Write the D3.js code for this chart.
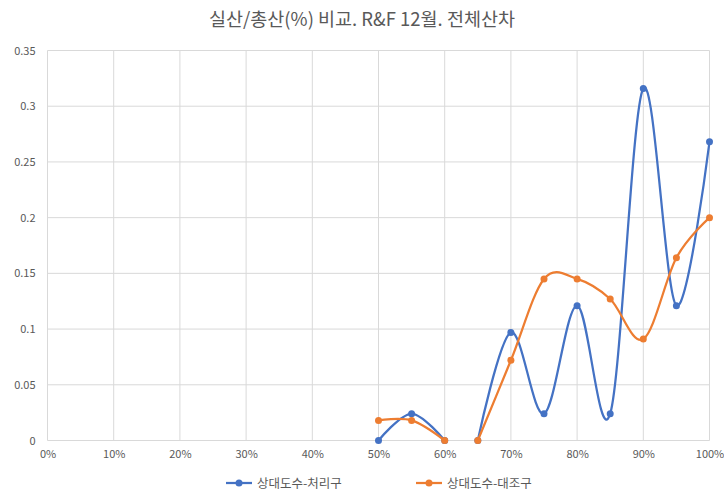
<!DOCTYPE html>
<html><head><meta charset="utf-8">
<script src="https://cdn.jsdelivr.net/npm/d3@7"></script>
<style>body{margin:0;background:#fff}svg{display:block}</style>
</head><body>
<svg id="c" width="724" height="493"></svg>
<script>
const title = "실산/총산(%) 비교. R&F 12월. 전체산차";
const xValues = [0.50, 0.55, 0.60, null, 0.65, 0.70, 0.75, 0.80, 0.85, 0.90, 0.95, 1.00];
const seriesNames = ["상대도수-처리구", "상대도수-대조구"];
const treated = [0, 0.024, 0, null, 0, 0.097, 0.024, 0.121, 0.024, 0.316, 0.121, 0.268];
const control = [0.018, 0.018, 0, null, 0, 0.072, 0.145, 0.145, 0.127, 0.091, 0.164, 0.200];
const xTicks = [0,0.1,0.2,0.3,0.4,0.5,0.6,0.7,0.8,0.9,1.0];
const yTicks = [0,0.05,0.1,0.15,0.2,0.25,0.3,0.35];
const colors = ["#4472C4", "#ED7D31"];

const svg = d3.select("#c");
const font = "'Noto Sans CJK KR','Noto Sans',sans-serif";
const x = d3.scaleLinear().domain([0,1]).range([47.5,709.5]);
const y = d3.scaleLinear().domain([0,0.35]).range([440.5,50.5]);

svg.append("text").attr("x",362).attr("y",26).attr("text-anchor","middle")
  .attr("font-family",font).attr("font-size",18.5).attr("fill","#595959").text(title);

// grid
svg.append("g").selectAll("line").data(yTicks).join("line")
  .attr("x1",x(0)).attr("x2",x(1)).attr("y1",d=>y(d)).attr("y2",d=>y(d))
  .attr("stroke","#d9d9d9").attr("stroke-width",1);
svg.append("g").selectAll("line").data(xTicks).join("line")
  .attr("x1",d=>x(d)).attr("x2",d=>x(d)).attr("y1",y(0)).attr("y2",y(0.35))
  .attr("stroke","#d9d9d9").attr("stroke-width",1);

// axes labels
const yAxis = d3.axisLeft(y).tickValues(yTicks).tickSize(0).tickPadding(12)
  .tickFormat(d=>d3.format("")(+d.toFixed(2)));
const gy = svg.append("g").attr("transform",`translate(${x(0)},0)`).call(yAxis);
gy.select(".domain").remove();
gy.selectAll("text").attr("font-family",font).attr("font-size",11).attr("fill","#595959");

const xAxis = d3.axisBottom(x).tickValues(xTicks).tickSize(0).tickPadding(10)
  .tickFormat(d3.format(".0%"));
const gx = svg.append("g").attr("transform",`translate(0,${y(0)})`).call(xAxis);
gx.select(".domain").remove();
gx.selectAll("text").attr("font-family",font).attr("font-size",11).attr("fill","#595959");

const series = [treated, control];
const line = d3.line().defined(d=>d[0]!=null && d[1]!=null)
  .x(d=>x(d[0])).y(d=>y(d[1])).curve(d3.curveCardinal.tension(0));

series.forEach((vals,i)=>{
  const pts = xValues.map((xv,j)=>[xv, vals[j]]);
  svg.append("path").datum(pts).attr("d",line).attr("fill","none")
    .attr("stroke",colors[i]).attr("stroke-width",2.25).attr("stroke-linejoin","round");
  svg.append("g").selectAll("circle").data(pts.filter(p=>p[0]!=null&&p[1]!=null)).join("circle")
    .attr("cx",d=>x(d[0])).attr("cy",d=>y(d[1])).attr("r",3.5).attr("fill",colors[i]);
});

// legend
const lg = svg.append("g");
const legX = [226, 416];
seriesNames.forEach((n,i)=>{
  const g = lg.append("g").attr("transform",`translate(${legX[i]},483)`);
  g.append("line").attr("x1",0).attr("x2",26).attr("stroke",colors[i]).attr("stroke-width",2.25);
  g.append("circle").attr("cx",13).attr("r",3.5).attr("fill",colors[i]);
  g.append("text").attr("x",31).attr("y",4.5).attr("font-family",font).attr("font-size",12.5)
    .attr("fill","#595959").text(n);
});
</script>
</body></html>
